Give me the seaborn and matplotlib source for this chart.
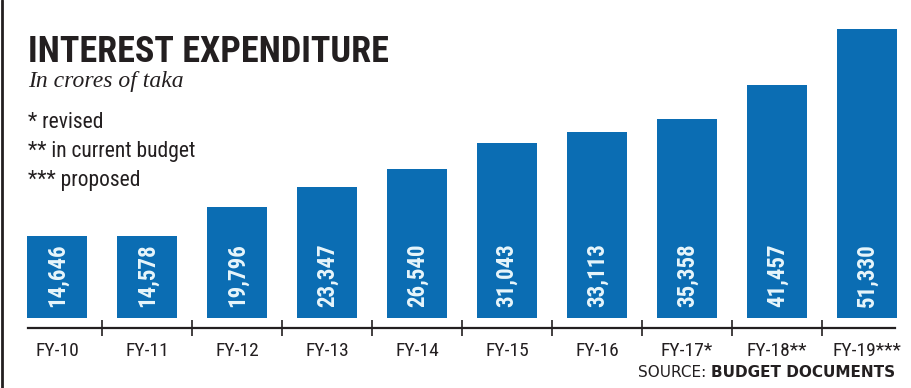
"""Interest expenditure bar chart (crores of taka)."""

import matplotlib
matplotlib.use("Agg")
import matplotlib.pyplot as plt
import numpy as np
import seaborn as sns
from matplotlib import font_manager
from matplotlib.lines import Line2D

# Data
years = ["FY-10", "FY-11", "FY-12", "FY-13", "FY-14",
         "FY-15", "FY-16", "FY-17*", "FY-18**", "FY-19***"]
values = [14646, 14578, 19796, 23347, 26540,
          31043, 33113, 35358, 41457, 51330]
notes = ["* revised", "** in current budget", "*** proposed"]

BLUE = "#0b6db3"
DARK = "#231f20"

# Pick a narrow sans if one is installed
available = {f.name for f in font_manager.fontManager.ttflist}
narrow = next((f for f in ["Liberation Sans Narrow", "Roboto Condensed",
                           "Open Sans Condensed", "Liberation Sans"]
               if f in available), "DejaVu Sans")

sns.set_theme(style="white")
plt.rcParams["font.family"] = [narrow, "DejaVu Sans"]

W, H = 911, 388
fig = plt.figure(figsize=(W / 100, H / 100), dpi=100)


def fx(px):
    return px / W


def fy(py):
    return 1 - py / H


# Axes placed in pixel terms: 90 px per category, 0 at y=318
ax = fig.add_axes([fx(12), fy(328), fx(900), (328 - 20) / H])
sns.barplot(x=years, y=values, color=BLUE, saturation=1, width=0.66,
            ax=ax, edgecolor="none")
ax.set_xlim(-0.5, 9.5)
ax.set_ylim(-1776, 52930)

for i, v in enumerate(values):
    ax.text(i, 1900, f"{v:,}", rotation=90, ha="center", va="bottom",
            color="#e8f6fb", fontsize=16.5, fontweight="bold")

# Axis line and boundary ticks
for side in ["top", "right", "left"]:
    ax.spines[side].set_visible(False)
ax.spines["bottom"].set_bounds(-0.32, 9.31)
ax.spines["bottom"].set_color(DARK)
ax.spines["bottom"].set_linewidth(1.6)
ax.set_yticks([])
ax.set_xticks(np.arange(len(years)))
ax.set_xticklabels(years, fontsize=14, color=DARK)
ax.set_xticks(np.arange(len(years) - 1) + 0.5, minor=True)
ax.tick_params(axis="x", which="major", length=0, pad=10)
ax.tick_params(axis="x", which="minor", direction="inout", length=11,
               width=1.2, color=DARK, bottom=True)
ax.set_xlabel("")
ax.set_ylabel("")
ax.patch.set_alpha(0)

# Titles and notes
fig.text(fx(28), fy(62), "INTEREST EXPENDITURE", fontsize=26,
         fontweight="bold", color=DARK, va="baseline")
fig.text(fx(28), fy(87), "In crores of taka", fontsize=17, style="italic",
         family="Liberation Serif", color=DARK, va="baseline")
for k, note in enumerate(notes):
    fig.text(fx(28), fy(128 + 29 * k), note, fontsize=15.5, color=DARK,
             va="baseline")

# Source line
src_bold = fig.text(fx(895), fy(377), "BUDGET DOCUMENTS", fontsize=11,
                    fontweight="bold", color=DARK, ha="right", va="baseline",
                    family="DejaVu Sans")
fig.canvas.draw()
bb = src_bold.get_window_extent()
fig.text((bb.x0 - 5) / W, fy(377), "SOURCE:", fontsize=11, color=DARK,
         ha="right", va="baseline", family="DejaVu Sans")

# Left frame edge
fig.add_artist(Line2D([fx(2), fx(2)], [0, 1], color=DARK, linewidth=2))

fig.savefig("out.png", dpi=100)
